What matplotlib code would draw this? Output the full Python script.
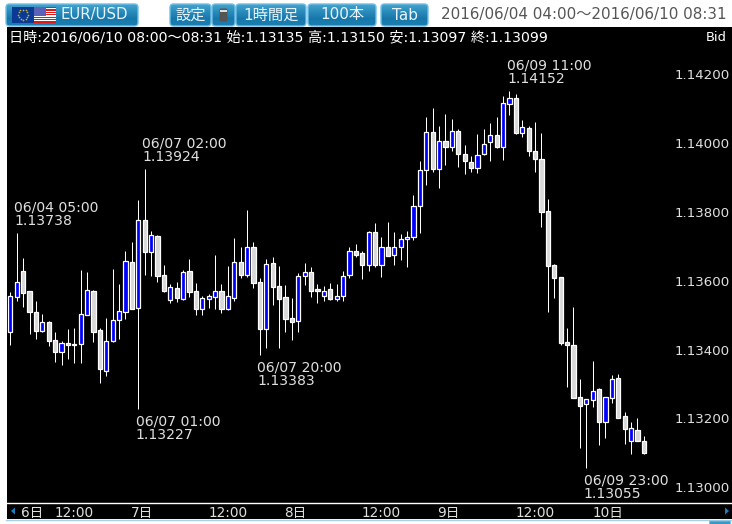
import numpy as np
import matplotlib
matplotlib.use('Agg')
import matplotlib.pyplot as plt
from matplotlib.patches import FancyBboxPatch, Rectangle, Polygon

plt.rcParams['font.family'] = ['DejaVu Sans', 'Noto Sans CJK JP']

# 1 hour candles, prices in 1e-5 units
opens = [113452, 113552, 113630, 113569, 113508, 113455, 113479, 113427, 113394, 113418,
         113416, 113415, 113501, 113569, 113456, 113339, 113426, 113485, 113508, 113656,
         113522, 113778, 113683, 113729, 113616, 113543, 113578, 113548, 113628, 113569,
         113519, 113548, 113554, 113569, 113519, 113551, 113654, 113618, 113697, 113596,
         113461, 113651, 113584, 113552, 113491, 113484, 113615, 113625, 113576, 113557,
         113575, 113548, 113557, 113616, 113686, 113680, 113647, 113741, 113647, 113698,
         113676, 113698, 113721, 113726, 113817, 113921, 114032, 113924, 114006, 113990,
         114035, 113968, 113945, 113929, 113968, 114003, 114023, 113990, 114115, 114131,
         114031, 114044, 113977, 113953, 113803, 113646, 113610, 113421, 113412, 113261,
         113241, 113253, 113285, 113191, 113260, 113317, 113206, 113133, 113165, 113135]
highs = [113568, 113738, 113665, 113570, 113541, 113505, 113482, 113451, 113425, 113460,
         113463, 113631, 113625, 113573, 113462, 113492, 113634, 113590, 113686, 113713,
         113835, 113924, 113745, 113732, 113646, 113590, 113597, 113631, 113663, 113594,
         113555, 113562, 113675, 113591, 113643, 113724, 113698, 113806, 113713, 113608,
         113662, 113669, 113643, 113588, 113550, 113622, 113652, 113640, 113591, 113585,
         113594, 113591, 113628, 113698, 113707, 113686, 113744, 113767, 113728, 113771,
         113742, 113736, 113745, 113850, 113949, 114076, 114103, 114050, 114085, 114071,
         114042, 113995, 113963, 114027, 114042, 114059, 114076, 114138, 114152, 114143,
         114068, 114049, 114062, 114029, 113837, 113649, 113610, 113462, 113523, 113314,
         113255, 113366, 113287, 113261, 113325, 113329, 113218, 113189, 113200, 113150]
lows = [113413, 113542, 113525, 113445, 113431, 113451, 113410, 113364, 113355, 113372,
        113361, 113361, 113501, 113422, 113303, 113323, 113422, 113431, 113489, 113519,
        113227, 113617, 113614, 113596, 113568, 113536, 113539, 113544, 113553, 113501,
        113501, 113521, 113518, 113506, 113515, 113541, 113608, 113611, 113579, 113383,
        113405, 113530, 113405, 113451, 113428, 113451, 113588, 113553, 113535, 113541,
        113544, 113541, 113541, 113609, 113670, 113606, 113629, 113640, 113611, 113673,
        113646, 113661, 113640, 113719, 113739, 113879, 113917, 113870, 113937, 113978,
        113931, 113911, 113917, 113914, 113965, 113949, 113986, 113952, 114082, 114027,
        114018, 113963, 113917, 113757, 113510, 113551, 113412, 113292, 113260, 113115,
        113055, 113234, 113124, 113144, 113246, 113202, 113127, 113098, 113133, 113097]
closes = [113556, 113598, 113565, 113510, 113455, 113479, 113426, 113394, 113418, 113414,
          113414, 113505, 113572, 113452, 113344, 113424, 113485, 113511, 113659, 113519,
          113778, 113684, 113732, 113615, 113571, 113581, 113549, 113625, 113568, 113519,
          113549, 113555, 113569, 113519, 113555, 113654, 113618, 113697, 113595, 113461,
          113648, 113583, 113548, 113490, 113481, 113613, 113625, 113571, 113571, 113569,
          113548, 113555, 113613, 113686, 113676, 113647, 113741, 113647, 113698, 113673,
          113698, 113721, 113727, 113817, 113921, 114032, 113926, 114006, 113990, 114035,
          113968, 113947, 113929, 113965, 113997, 114023, 113990, 114116, 114131, 114031,
          114046, 113977, 113953, 113801, 113644, 113609, 113420, 113412, 113260, 113237,
          113255, 113281, 113191, 113261, 113314, 113202, 113170, 113173, 113135, 113099]

price_ticks = [1.130, 1.132, 1.134, 1.136, 1.138, 1.140, 1.142]
time_ticks = [3.4, 10, 20.6, 34, 44.5, 58, 68.5, 82, 93.4]
time_labels = ['6日', '12:00', '7日', '12:00', '8日', '12:00', '9日', '12:00', '10日']

# candle index, label, high or low
high_notes = [(1, '06/04 05:00', 1.13738), (21, '06/07 02:00', 1.13924), (78, '06/09 11:00', 1.14152)]
low_notes = [(20, '06/07 01:00', 1.13227), (39, '06/07 20:00', 1.13383), (90, '06/09 23:00', 1.13055)]

info_text = '日時:2016/06/10 08:00〜08:31 始:1.13135 高:1.13150 安:1.13097 終:1.13099'
range_text = '2016/06/04 04:00〜2016/06/10 08:31'

W, H = 732, 524


def draw_button(ax, x0, y0, x1, y1, label=None, size=11):
    box = FancyBboxPatch((x0 + 1.5, y0 + 1.5), x1 - x0 - 3, y1 - y0 - 3,
                         boxstyle='round,pad=1.5,rounding_size=3.5',
                         fc='none', ec='#6fc0e6', lw=1, zorder=3)
    ax.add_patch(box)
    grad = np.linspace(0, 1, 32).reshape(-1, 1)
    im = ax.imshow(grad, extent=(x0, x1, y1, y0), aspect='auto', zorder=2,
                   cmap=matplotlib.colors.LinearSegmentedColormap.from_list(
                       'btn', ['#46a3cc', '#2a8dbc', '#1877aa', '#1a7fb2']))
    im.set_clip_path(box)
    if label:
        ax.text((x0 + x1) / 2, (y0 + y1) / 2, label, color='#e8f4fa', fontsize=size,
                ha='center', va='center', zorder=4)


def draw_flags(ax):
    ax.add_patch(Rectangle((12, 7), 21.5, 15.5, fc='#0a3a96', ec='none', zorder=4))
    ang = np.arange(12) * np.pi / 6
    ax.scatter(23 + 5 * np.cos(ang), 14.7 + 5 * np.sin(ang), s=1.5, c='#c8b030', lw=0, zorder=5)
    for k in range(7):
        y = 7 + k * 15.5 / 6.5
        ax.add_patch(Rectangle((34, y), 22, 15.5 / 13, fc='#e01818', ec='none', zorder=4))
        if k < 6:
            ax.add_patch(Rectangle((34, y + 15.5 / 13), 22, 15.5 / 13, fc='white', ec='none', zorder=4))
    ax.add_patch(Rectangle((34, 7), 11.5, 8.5, fc='#5a62b8', ec='none', zorder=5))


def draw_chrome(fig):
    ax = fig.add_axes([0, 0, 1, 1], zorder=0)
    draw_button(ax, 6, 4, 138, 26)
    draw_flags(ax)
    ax.text(60, 15, 'EUR/USD', color='#e8f4fa', fontsize=10.7, va='center', zorder=6)
    draw_button(ax, 170, 4, 211, 26, '設定')
    draw_button(ax, 212, 4, 235, 26)
    ax.add_patch(FancyBboxPatch((221, 10), 5, 10, boxstyle='round,pad=1.5,rounding_size=1.5',
                                fc='#555555', ec='none', zorder=5))
    ax.add_patch(Rectangle((220, 9.5), 7, 2.5, fc='#dddddd', ec='none', zorder=6))
    draw_button(ax, 236, 4, 306, 26, '1時間足')
    draw_button(ax, 308, 4, 376, 26, '100本')
    draw_button(ax, 381, 4, 428, 26, 'Tab')
    ax.text(727, 15, range_text, color='#555555', fontsize=10.9, ha='right', va='center')
    # black strip for the time axis
    ax.add_patch(Rectangle((7, 503), W - 7, 16, fc='black', ec='none', zorder=1))
    ax.plot([6, W], [520, 520], color='#a8d0e6', lw=1, zorder=1)
    ax.add_patch(FancyBboxPatch((710, 521.5), 20, 6, boxstyle='round,pad=0.5',
                                fc='#3a98c4', ec='#7cc4e8', lw=0.7, zorder=1))
    ax.add_patch(Polygon([(11, 511), (15, 507.5), (15, 514.5)], fc='#1a80c0', ec='none', zorder=5))
    ax.add_patch(Polygon([(729, 511), (725, 507.5), (725, 514.5)], fc='#1a80c0', ec='none', zorder=5))
    ax.set_xlim(0, W)
    ax.set_ylim(H, 0)
    ax.axis('off')


def draw_candles(ax, x, o, h, l, c):
    wicks = ax.vlines(x, l, h, color='white', lw=0.72, zorder=2)
    wicks.set_snap(True)
    up = c >= o
    bottoms = np.minimum(o, c)
    heights = np.abs(c - o)
    ax.bar(x[up], heights[up], bottom=bottoms[up], width=0.66, color='#0000ff',
           edgecolor='white', lw=0.9, zorder=3)
    ax.bar(x[~up], heights[~up], bottom=bottoms[~up], width=0.66, color='#d8d8d8',
           edgecolor='white', lw=0.9, zorder=3)


def main():
    o = np.array(opens) / 1e5
    h = np.array(highs) / 1e5
    l = np.array(lows) / 1e5
    c = np.array(closes) / 1e5
    x = np.arange(len(o))

    fig = plt.figure(figsize=(W / 100, H / 100), dpi=100, facecolor='white')
    draw_chrome(fig)

    ax = fig.add_axes([7 / W, 1 - 503 / H, (W - 7) / W, 476 / H], facecolor='black', zorder=2)
    draw_candles(ax, x, o, h, l, c)

    ax.set_xlim(-0.516, 112.77)
    ax.set_ylim(1.129541, 1.143379)
    for name, spine in ax.spines.items():
        spine.set_visible(name == 'bottom')
    ax.spines['bottom'].set_color('white')
    ax.spines['bottom'].set_linewidth(1)

    ax.yaxis.tick_right()
    ax.set_yticks(price_ticks, [f'{p:.5f}' for p in price_ticks])
    ax.tick_params(axis='y', length=0, pad=-41, colors='#e0e0e0', labelsize=9.6)
    ax.set_xticks(time_ticks, time_labels)
    ax.tick_params(axis='x', length=0, pad=2.2, colors='#e0e0e0', labelsize=9.8)

    for i, label, price in high_notes:
        ax.annotate(f'{label}\n{price:.5f}', xy=(i, price), xytext=(-2.5, 5),
                    textcoords='offset pixels', color='#e0e0e0', fontsize=10.1,
                    ha='left', va='bottom', linespacing=0.95)
    for i, label, price in low_notes:
        ax.annotate(f'{label}\n{price:.5f}', xy=(i, price), xytext=(-2.5, -5),
                    textcoords='offset pixels', color='#e0e0e0', fontsize=10.1,
                    ha='left', va='top', linespacing=0.95)

    fig.text(9 / W, 1 - 37.5 / H, info_text, color='white', fontsize=10.2, va='center', zorder=5)
    fig.text(727 / W, 1 - 37.5 / H, 'Bid', color='white', fontsize=9.4, ha='right', va='center', zorder=5)

    fig.savefig('out.png', dpi=100)


if __name__ == '__main__':
    main()
